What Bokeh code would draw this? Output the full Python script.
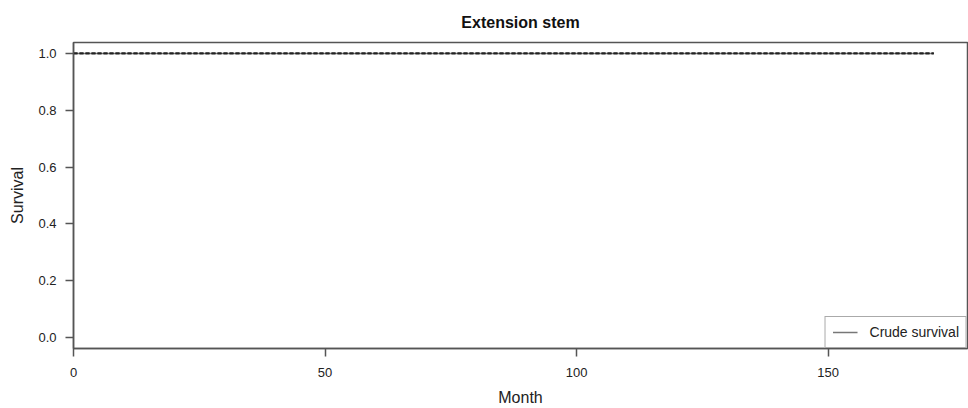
from bokeh.plotting import figure
from bokeh.models import Range1d, FixedTicker, PrintfTickFormatter, Legend, LegendItem
from bokeh.embed import file_html
from bokeh.resources import INLINE

# Data
months = [0, 171]
crude_survival = [1.0, 1.0]
ci_lower = [1.0, 1.0]
ci_upper = [1.0, 1.0]
x_ticks = [0, 50, 100, 150]
y_ticks = [0.0, 0.2, 0.4, 0.6, 0.8, 1.0]

FONT = "Liberation Sans"

p = figure(width=968, height=408, output_backend="svg", toolbar_location=None,
           x_range=Range1d(0, 177.7), y_range=Range1d(-0.0385, 1.0385),
           min_border_left=73, min_border_right=1, min_border_top=41, min_border_bottom=59)

p.title.text = "Extension stem"
p.title.align = "center"
p.title.text_font = FONT
p.title.text_font_size = "16px"
p.title.text_font_style = "bold"
p.title.text_color = "#111111"
p.title.standoff = 23

p.grid.visible = False
p.outline_line_color = "#555555"
p.outline_line_width = 1.5
p.background_fill_color = "white"
p.border_fill_color = "white"

for ax in (p.xaxis[0], p.yaxis[0]):
    ax.axis_line_color = "#555555"
    ax.axis_line_width = 1.5
    ax.major_tick_line_color = "#555555"
    ax.major_tick_line_width = 1.5
    ax.major_tick_in = 0
    ax.major_tick_out = 8
    ax.minor_tick_line_color = None
    ax.major_label_text_font = FONT
    ax.major_label_text_font_size = "13px"
    ax.major_label_text_color = "#222222"
    ax.axis_label_text_font = FONT
    ax.axis_label_text_font_size = "16px"
    ax.axis_label_text_font_style = "normal"
    ax.axis_label_text_color = "#222222"

p.xaxis.ticker = FixedTicker(ticks=x_ticks)
p.yaxis.ticker = FixedTicker(ticks=y_ticks)
p.yaxis.formatter = PrintfTickFormatter(format="%.1f")
p.xaxis.axis_label = "Month"
p.yaxis.axis_label = "Survival"
p.xaxis.major_label_standoff = 11
p.yaxis.major_label_standoff = 9
p.xaxis.axis_label_standoff = 9
p.yaxis.axis_label_standoff = 9

crude = p.line(months, crude_survival, line_color="#777777", line_width=1.5)
p.line(months, ci_upper, line_color="#222222", line_width=1.8, line_dash="4 2")
p.line(months, ci_lower, line_color="#222222", line_width=1.8, line_dash="4 2")

legend = Legend(items=[LegendItem(label="Crude survival", renderers=[crude])],
                location="bottom_right", margin=0, padding=7,
                border_line_color="#555555", border_line_width=1.5,
                label_text_font=FONT, label_text_font_size="14px",
                label_text_color="#222222", glyph_width=25, label_standoff=12,
                label_height=16, glyph_height=16,
                background_fill_alpha=1.0)
p.add_layout(legend)

open("out.html", "w").write(file_html(p, INLINE))
